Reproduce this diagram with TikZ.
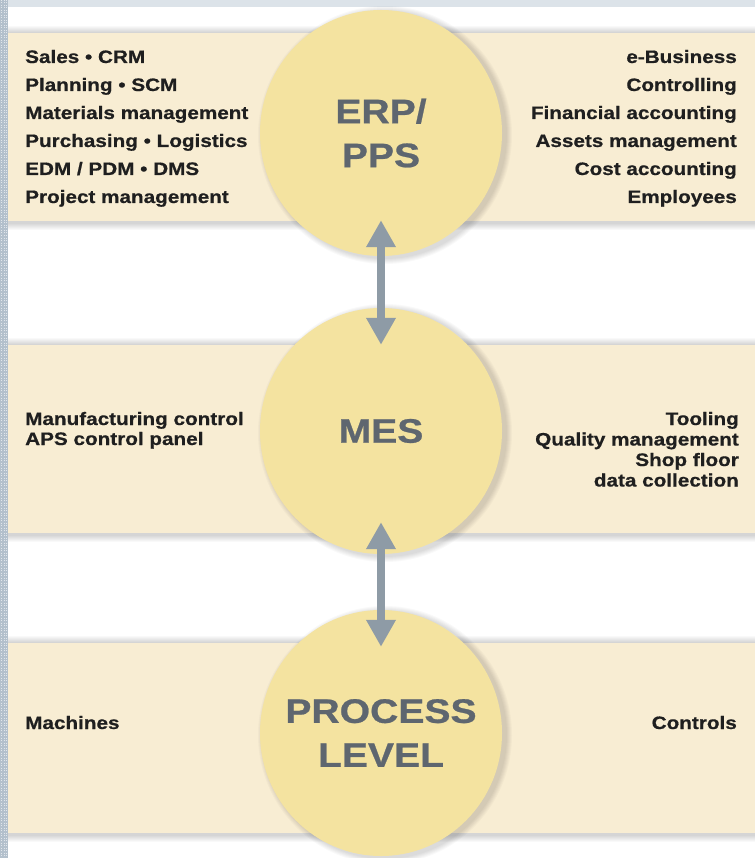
\documentclass[tikz,border=0pt]{standalone}
\usepackage{fontspec}
\setmainfont{Liberation Sans}
\newfontfamily\heavy{Liberation Sans}[FakeStretch=1.15,FakeBold=0.7]
\usetikzlibrary{shapes.geometric,arrows.meta}
\definecolor{bandc}{HTML}{F8EDD3}
\definecolor{disc}{HTML}{F4E3A0}
\definecolor{bigtxt}{HTML}{5E666F}
\definecolor{arrc}{HTML}{8E9BA6}
\definecolor{stripc}{HTML}{DCE3E9}
\definecolor{framec}{HTML}{B3C0CC}
\begin{document}
\begin{tikzpicture}[x=1pt,y=-1pt,
  small/.style={font=\heavy\bfseries\fontsize{18}{20}\selectfont, text=black!88, inner sep=0pt},
  bigtext/.style={font=\heavy\bfseries\fontsize{34}{44}\selectfont, text=bigtxt, align=center},
  levelnode/.style={ellipse, fill=disc, minimum width=242pt, minimum height=246pt, inner sep=0pt},
  twoway/.style={draw=arrc, line width=8pt, {Triangle[width=28pt,length=27pt]}-{Triangle[width=28pt,length=27pt]}},
  shade/.style={fill=black, opacity=0.025}
]
\useasboundingbox (0,0) rectangle (755,858);
\fill[white] (0,0) rectangle (755,858);
\fill[stripc] (0,0) rectangle (755,7);
\fill[framec] (0,0) rectangle (8,858);
\foreach \x in {1.5,4,6.5}
  \draw[white!60!framec, line width=0.9pt, dash pattern=on 1pt off 1.5pt] (\x,0) -- (\x,858);

% bands with soft shadows
\foreach \t/\b in {33/221, 345/533, 643/833}{
  \foreach \k in {1,...,7}
    \fill[shade] (8,\t-\k) rectangle (755,\b+\k+2);
  \fill[bandc] (8,\t) rectangle (755,\b);
}

% circle shadows
\foreach \cy in {133,431,733}{
  \foreach \k in {1,...,6}
    \fill[shade] (385,\cy+2) ellipse [x radius=121pt+\k pt, y radius=123pt+\k pt];
}

\node[levelnode] (erp)  at (381,133) {};
\node[levelnode] (mes)  at (381,431) {};
\node[levelnode] (proc) at (381,733) {};
\node[bigtext] (erpt)  at (erp.center)  {ERP/\\PPS};
\node[bigtext] (mest)  at (mes.center)  {MES};
\node[bigtext] (proct) at (proc.center) {PROCESS\\LEVEL};

\draw[twoway] ([yshift=36pt]erp.south) -- ([yshift=-37pt]mes.north);
\draw[twoway] ([yshift=32pt]mes.south) -- ([yshift=-37pt]proc.north);

% ERP texts
\foreach \t [count=\i] in {Sales • CRM, Planning • SCM, Materials management, Purchasing • Logistics, EDM / PDM • DMS, Project management}
  \node[small, anchor=base west] (el\i) at (25,{63+28*(\i-1)}) {\t};
\foreach \t [count=\i] in {e-Business, Controlling, Financial accounting, Assets management, Cost accounting, Employees}
  \node[small, anchor=base east] (er\i) at (737,{63+28*(\i-1)}) {\t};

% MES texts
\foreach \t [count=\i] in {Manufacturing control, APS control panel}
  \node[small, anchor=base west] (ml\i) at (25,{425+20*(\i-1)}) {\t};
\foreach \t [count=\i] in {Tooling, Quality management, Shop floor, data collection}
  \node[small, anchor=base east] (mr\i) at (739,{425+20.5*(\i-1)}) {\t};

% process level texts
\node[small, anchor=base west] (pl) at (25,729) {Machines};
\node[small, anchor=base east] (pr) at (737,729) {Controls};
\end{tikzpicture}
\end{document}
